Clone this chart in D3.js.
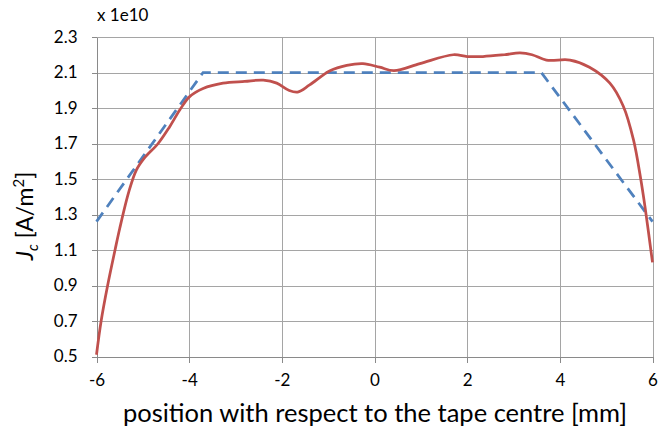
<!DOCTYPE html>
<html>
<head>
<meta charset="utf-8">
<script src="https://cdn.jsdelivr.net/npm/d3@7"></script>
<style>
  html, body { margin: 0; padding: 0; background: #fff; }
  svg { display: block; font-family: Lato, "Open Sans", sans-serif; }
</style>
</head>
<body>
<svg id="chart" width="670" height="434"></svg>
<script>
// Critical current density across the tape width (values in units of 1e10 A/m^2)
const xTicks = [-6, -4, -2, 0, 2, 4, 6];
const yTicks = [0.5, 0.7, 0.9, 1.1, 1.3, 1.5, 1.7, 1.9, 2.1, 2.3];

// measured profile (solid red)
const measuredX = [-6, -5.9, -5.76, -5.6, -5.5, -5.3, -5.14, -4.96, -4.67, -4.42, -4.2, -3.99, -3.7, -3.27, -2.8, -2.4, -2.11, -1.85, -1.66, -1.4, -0.96, -0.6, -0.25, 0.11, 0.42, 0.98, 1.7, 2.0, 2.34, 2.8, 3.14, 3.4, 3.71, 4.22, 4.64, 5.08, 5.37, 5.59, 5.74, 5.84, 6.0];
const measuredJc = [0.51, 0.7, 0.9, 1.1, 1.22, 1.43, 1.55, 1.62, 1.70, 1.795, 1.89, 1.964, 2.01, 2.04, 2.05, 2.057, 2.04, 2.0, 1.99, 2.03, 2.11, 2.14, 2.15, 2.13, 2.11, 2.15, 2.2, 2.19, 2.19, 2.2, 2.21, 2.2, 2.17, 2.17, 2.13, 2.04, 1.91, 1.72, 1.51, 1.34, 1.03];

// model profile (dashed blue)
const modelX = [-6, -3.7, 3.6, 6];
const modelJc = [1.26, 2.1, 2.1, 1.26];

const svg = d3.select("#chart");
const plotLeft = 96.5, plotRight = 652.5, plotTop = 37, plotBottom = 356.5;

const x = d3.scaleLinear().domain([-6, 6]).range([plotLeft, plotRight]);
const y = d3.scaleLinear().domain([0.5, 2.3]).range([plotBottom, plotTop]);

const gridColor = "#a5a5a5";
const axisColor = "#8a8a8a";
const tickFont = 17;

// horizontal grid
svg.append("g")
  .attr("transform", `translate(${plotLeft},0)`)
  .call(d3.axisLeft(y).tickValues(yTicks).tickSize(-(plotRight - plotLeft)).tickFormat(""))
  .call(g => g.select(".domain").remove())
  .call(g => g.selectAll("line").attr("stroke", gridColor).attr("shape-rendering", "crispEdges"));

// vertical grid
svg.append("g")
  .attr("transform", `translate(0,${plotBottom})`)
  .call(d3.axisBottom(x).tickValues(xTicks).tickSize(-(plotBottom - plotTop)).tickFormat(""))
  .call(g => g.select(".domain").remove())
  .call(g => g.selectAll("line").attr("stroke", gridColor).attr("shape-rendering", "crispEdges"));

// x axis (plain hyphen for negative labels)
const xAxis = svg.append("g")
  .attr("transform", `translate(0,${plotBottom})`)
  .call(d3.axisBottom(x).tickValues(xTicks).tickSize(6).tickSizeOuter(0).tickPadding(11).tickFormat(d => String(d)));
xAxis.select(".domain").attr("stroke", axisColor).attr("shape-rendering", "crispEdges");
xAxis.selectAll(".tick line").attr("stroke", axisColor).attr("shape-rendering", "crispEdges");
xAxis.selectAll("text").attr("font-size", tickFont).attr("fill", "#000").attr("font-family", "Lato, sans-serif");

// y axis
const yAxis = svg.append("g")
  .attr("transform", `translate(${plotLeft},0)`)
  .call(d3.axisLeft(y).tickValues(yTicks).tickSize(5).tickSizeOuter(0).tickPadding(14).tickFormat(d3.format(".1f")));
yAxis.select(".domain").attr("stroke", axisColor).attr("shape-rendering", "crispEdges");
yAxis.selectAll(".tick line").attr("stroke", axisColor).attr("shape-rendering", "crispEdges");
yAxis.selectAll("text").attr("font-size", tickFont).attr("fill", "#000").attr("font-family", "Lato, sans-serif");

// model line
const modelLine = d3.line().x((d, i) => x(modelX[i])).y(d => y(d));
svg.append("path")
  .datum(modelJc)
  .attr("d", modelLine)
  .attr("fill", "none")
  .attr("stroke", "#4f81bd")
  .attr("stroke-width", 2.75)
  .attr("stroke-dasharray", "11,7");

// measured curve
const measuredLine = d3.line()
  .x((d, i) => x(measuredX[i]))
  .y(d => y(d))
  .curve(d3.curveCatmullRom.alpha(0.5));
svg.append("path")
  .datum(measuredJc)
  .attr("d", measuredLine)
  .attr("fill", "none")
  .attr("stroke", "#c0504d")
  .attr("stroke-width", 2.75)
  .attr("stroke-linejoin", "round");

// scale factor note
svg.append("text")
  .attr("x", 97).attr("y", 21)
  .attr("font-size", 17)
  .attr("fill", "#000")
  .text("x 1e10");

// x axis title
svg.append("text")
  .attr("x", 375).attr("y", 422)
  .attr("text-anchor", "middle")
  .attr("font-size", 25.5)
  .attr("fill", "#000")
  .text("position with respect to the tape centre [mm]");

// y axis title: J_c [A/m²]
const yTitle = svg.append("text")
  .attr("transform", "translate(33,216) rotate(-90)")
  .attr("text-anchor", "middle")
  .attr("font-size", 23)
  .attr("fill", "#000");
yTitle.append("tspan").attr("font-style", "italic").text("J");
yTitle.append("tspan").attr("font-style", "italic").attr("font-size", 15).attr("dy", 5).text("c");
yTitle.append("tspan").attr("dy", -5).text(" [A/m");
yTitle.append("tspan").attr("font-size", 15).attr("dy", -9).text("2");
yTitle.append("tspan").attr("dy", 9).text("]");
</script>
</body>
</html>
